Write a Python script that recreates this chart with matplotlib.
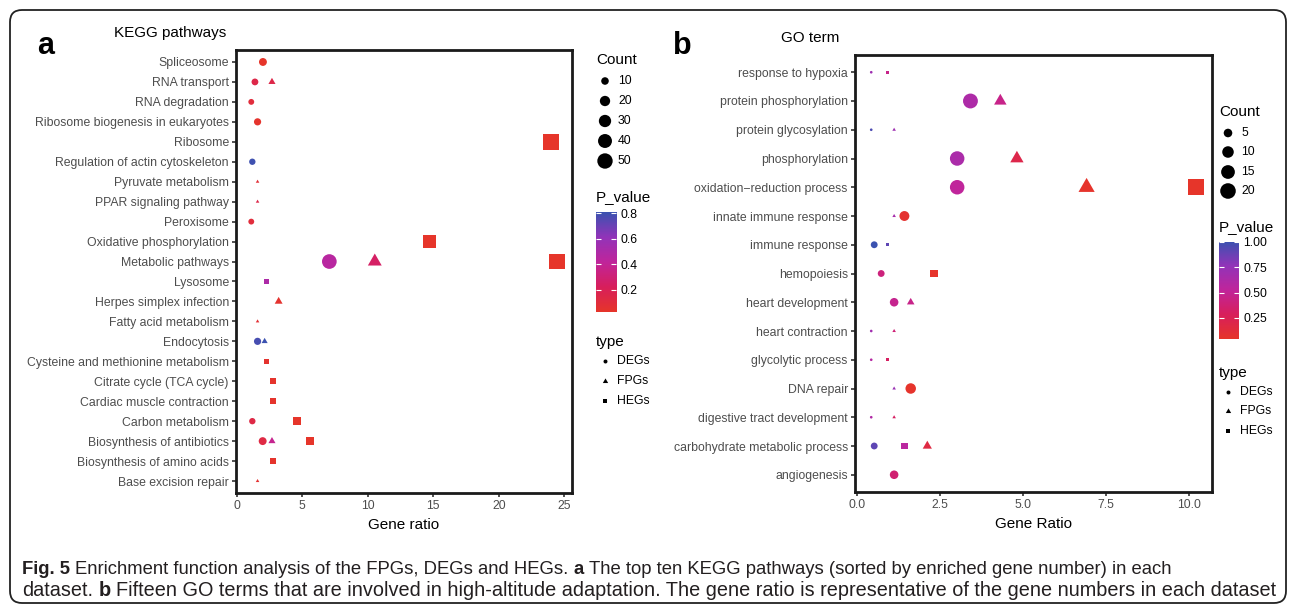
import numpy as np
import matplotlib.pyplot as plt
from matplotlib.colors import LinearSegmentedColormap, Normalize
from matplotlib.path import Path
from matplotlib.patches import FancyBboxPatch

plt.rcParams['font.family'] = ['Liberation Sans', 'DejaVu Sans']

W, H, DPI = 1290, 605, 100

# ---------------- panel a: KEGG pathways ----------------
kegg_terms = ["Spliceosome", "RNA transport", "RNA degradation",
              "Ribosome biogenesis in eukaryotes", "Ribosome",
              "Regulation of actin cytoskeleton", "Pyruvate metabolism",
              "PPAR signaling pathway", "Peroxisome", "Oxidative phosphorylation",
              "Metabolic pathways", "Lysosome", "Herpes simplex infection",
              "Fatty acid metabolism", "Endocytosis",
              "Cysteine and methionine metabolism", "Citrate cycle (TCA cycle)",
              "Cardiac muscle contraction", "Carbon metabolism",
              "Biosynthesis of antibiotics", "Biosynthesis of amino acids",
              "Base excision repair"]

a_deg_terms = ["Spliceosome", "RNA transport", "RNA degradation",
               "Ribosome biogenesis in eukaryotes", "Regulation of actin cytoskeleton",
               "Peroxisome", "Metabolic pathways", "Endocytosis",
               "Carbon metabolism", "Biosynthesis of antibiotics"]
a_deg_ratio = [1.99, 1.38, 1.10, 1.58, 1.18, 1.10, 7.06, 1.58, 1.18, 1.97]
a_deg_count = [11, 8, 6, 9, 7, 6, 45, 9, 7, 11]
a_deg_p = [0.03, 0.15, 0.10, 0.04, 0.80, 0.10, 0.45, 0.78, 0.14, 0.13]

a_fpg_terms = ["RNA transport", "Pyruvate metabolism", "PPAR signaling pathway",
               "Metabolic pathways", "Herpes simplex infection", "Fatty acid metabolism",
               "Endocytosis", "Biosynthesis of antibiotics", "Base excision repair"]
a_fpg_ratio = [2.68, 1.58, 1.58, 10.53, 3.19, 1.58, 2.12, 2.68, 1.58]
a_fpg_count = [5, 3, 3, 20, 6, 3, 4, 5, 3]
a_fpg_p = [0.15, 0.08, 0.15, 0.25, 0.05, 0.07, 0.81, 0.38, 0.06]

a_heg_terms = ["Ribosome", "Oxidative phosphorylation", "Metabolic pathways",
               "Lysosome", "Cysteine and methionine metabolism",
               "Citrate cycle (TCA cycle)", "Cardiac muscle contraction",
               "Carbon metabolism", "Biosynthesis of antibiotics",
               "Biosynthesis of amino acids"]
a_heg_ratio = [24.0, 14.73, 24.42, 2.27, 2.27, 2.78, 2.78, 4.59, 5.56, 2.78]
a_heg_count = [53, 32, 54, 5, 5, 6, 6, 10, 12, 6]
a_heg_p = [0.03, 0.03, 0.027, 0.50, 0.05, 0.04, 0.04, 0.03, 0.03, 0.04]

a_xticks = [0, 5, 10, 15, 20, 25]
a_count_breaks = [10, 20, 30, 40, 50]
a_p_ticks = [0.2, 0.4, 0.6, 0.8]

# ---------------- panel b: GO term ----------------
go_terms = ["response to hypoxia", "protein phosphorylation", "protein glycosylation",
            "phosphorylation", "oxidation\u2212reduction process", "innate immune response",
            "immune response", "hemopoiesis", "heart development", "heart contraction",
            "glycolytic process", "DNA repair", "digestive tract development",
            "carbohydrate metabolic process", "angiogenesis"]

b_deg_terms = go_terms
b_deg_ratio = [0.42, 3.41, 0.42, 3.01, 3.01, 1.42, 0.51, 0.72, 1.11, 0.42,
               0.42, 1.61, 0.42, 0.51, 1.11]
b_deg_count = [1, 18, 1, 17, 17, 7, 3, 3, 5, 1, 1, 8, 1, 3, 5]
b_deg_p = [0.70, 0.62, 0.95, 0.63, 0.52, 0.07, 1.00, 0.40, 0.47, 0.68,
           0.58, 0.05, 0.60, 0.90, 0.36]

b_fpg_terms = ["protein phosphorylation", "protein glycosylation", "phosphorylation",
               "oxidation\u2212reduction process", "innate immune response",
               "heart development", "heart contraction", "DNA repair",
               "digestive tract development", "carbohydrate metabolic process"]
b_fpg_ratio = [4.31, 1.11, 4.81, 6.91, 1.11, 1.61, 1.11, 1.11, 1.11, 2.11]
b_fpg_count = [6, 1, 7, 11, 1, 2, 1, 1, 1, 3]
b_fpg_p = [0.45, 0.70, 0.20, 0.05, 0.65, 0.45, 0.38, 0.72, 0.30, 0.16]

b_heg_terms = ["response to hypoxia", "oxidation\u2212reduction process", "immune response",
               "hemopoiesis", "glycolytic process", "carbohydrate metabolic process"]
b_heg_ratio = [0.92, 10.2, 0.92, 2.32, 0.92, 1.41]
b_heg_count = [1, 21, 1, 4, 1, 3]
b_heg_p = [0.45, 0.04, 0.90, 0.05, 0.30, 0.55]

b_xticks = [0, 2.5, 5, 7.5, 10]
b_count_breaks = [5, 10, 15, 20]
b_p_ticks = [0.25, 0.50, 0.75, 1.00]

types = ["DEGs", "FPGs", "HEGs"]

# caption pieces: (text, bold)
caption1 = [("Fig. 5", True),
            ("Enrichment function analysis of the FPGs, DEGs and HEGs.", False),
            ("a", True),
            ("The top ten KEGG pathways (sorted by enriched gene number) in each", False)]
caption2 = [("dataset.", False), ("b", True),
            ("Fifteen GO terms that are involved in high-altitude adaptation. "
             "The gene ratio is representative of the gene numbers in each dataset", False)]

# ---------------- styling ----------------
cmap = LinearSegmentedColormap.from_list(
    "pv", ["#E6352A", "#D81F5C", "#C0259B", "#9234B9", "#3B52B0"])

TRI = Path([(0, 1.5551), (-1.3468, -0.7776), (1.3468, -0.7776), (0, 1.5551)],
           [Path.MOVETO, Path.LINETO, Path.LINETO, Path.CLOSEPOLY])
MARK = {"DEGs": ("o", 1.0), "FPGs": (TRI, 1.5551), "HEGs": ("s", 1.0)}
UNIT = 2.65   # pixels per ggplot size unit
GRAY = "#4D4D4D"
CAP_COLOR = "#231F20"


def size_unit(c, cmin, cmax):
    c = np.asarray(c, float)
    return 1 + 5 * np.sqrt((c - cmin) / (cmax - cmin))


def area(d_px, kind):
    m = np.asarray(d_px) * 72 / DPI * MARK[kind][1]
    return m ** 2


fig = plt.figure(figsize=(W / DPI, H / DPI), dpi=DPI)


def px_rect(x0, y0, x1, y1):
    return [x0 / W, 1 - y1 / H, (x1 - x0) / W, (y1 - y0) / H]


def panel(rect, terms, series, xticks, xlabels, xlabel):
    ax = fig.add_axes(rect)
    n = len(terms)
    ypos = {t: n - 1 - i for i, t in enumerate(terms)}
    counts = np.concatenate([s[2] for s in series.values()])
    pvals = np.concatenate([s[3] for s in series.values()])
    ratios = np.concatenate([s[1] for s in series.values()])
    cmin, cmax = counts.min(), counts.max()
    norm = Normalize(pvals.min(), pvals.max())
    for kind in types:
        tt, rr, cc, pp = series[kind]
        d = UNIT * size_unit(cc, cmin, cmax)
        ax.scatter(rr, [ypos[t] for t in tt], s=area(d, kind),
                   c=cmap(norm(np.asarray(pp))), marker=MARK[kind][0],
                   linewidths=0, zorder=3)
    span = ratios.max() - ratios.min()
    ax.set_xlim(ratios.min() - 0.05 * span, ratios.max() + 0.05 * span)
    ax.set_ylim(-0.6, n - 0.4)
    ax.set_yticks(range(n))
    ax.set_yticklabels(terms[::-1])
    ax.set_xticks(xticks)
    ax.set_xticklabels(xlabels)
    ax.tick_params(colors="#333333", labelcolor=GRAY, labelsize=8.8,
                   length=3, width=1.2, pad=2.2)
    for sp in ax.spines.values():
        sp.set_linewidth(2.0)
        sp.set_color("#1A1A1A")
    ax.set_xlabel(xlabel, fontsize=11, labelpad=4)
    return cmin, cmax, norm


a_series = {"DEGs": (a_deg_terms, a_deg_ratio, a_deg_count, a_deg_p),
            "FPGs": (a_fpg_terms, a_fpg_ratio, a_fpg_count, a_fpg_p),
            "HEGs": (a_heg_terms, a_heg_ratio, a_heg_count, a_heg_p)}
b_series = {"DEGs": (b_deg_terms, b_deg_ratio, b_deg_count, b_deg_p),
            "FPGs": (b_fpg_terms, b_fpg_ratio, b_fpg_count, b_fpg_p),
            "HEGs": (b_heg_terms, b_heg_ratio, b_heg_count, b_heg_p)}

a_cmin, a_cmax, a_norm = panel(px_rect(236, 50, 572, 493), kegg_terms, a_series,
                               a_xticks, [str(v) for v in a_xticks], "Gene ratio")
b_cmin, b_cmax, b_norm = panel(px_rect(855, 55, 1212, 492), go_terms, b_series,
                               b_xticks, ["%.1f" % v for v in b_xticks], "Gene Ratio")

# overlay in pixel coordinates
ov = fig.add_axes([0, 0, 1, 1], zorder=-1)
ov.set_xlim(0, W)
ov.set_ylim(H, 0)
ov.axis("off")

ov.add_patch(FancyBboxPatch((10, 10), 1276, 593,
                            boxstyle="round,pad=0,rounding_size=12",
                            fill=False, ec="#222222", lw=1.3))

ov.text(37, 54, "a", fontsize=22, fontweight="bold", va="baseline")
ov.text(673, 54, "b", fontsize=22, fontweight="bold", va="baseline")
ov.text(170, 33, "KEGG pathways", fontsize=11, ha="center", va="center")
ov.text(810, 38, "GO term", fontsize=11, ha="center", va="center")


def legends(x0, count_ys, breaks, cmin, cmax, p_title_y, bar, norm, pticks, pfmt, type_ys):
    # Count
    ov.text(x0, count_ys[0] - 21, "Count", fontsize=11, va="center")
    d = UNIT * size_unit(breaks, cmin, cmax)
    ov.scatter([x0 + 9] * len(breaks), count_ys, s=area(d, "DEGs"), c="black",
               marker="o", linewidths=0)
    for y, b in zip(count_ys, breaks):
        ov.text(x0 + 22, y, str(b), fontsize=8.8, va="center")
    # P_value
    ov.text(x0, p_title_y, "P_value", fontsize=11, va="center")
    bx0, by0, bx1, by1 = bar
    cax = fig.add_axes(px_rect(bx0, by0, bx1, by1))
    lo, hi = norm.vmin, norm.vmax
    grad = np.linspace(lo, hi, 300)[:, None]
    cax.imshow(grad, aspect="auto", cmap=cmap, norm=norm, origin="lower",
               extent=[0, 1, lo, hi])
    cax.set_xticks([])
    cax.set_ylim(lo, hi)
    cax.set_yticks(pticks)
    cax.set_yticklabels([pfmt % v for v in pticks])
    cax.tick_params(axis="y", left=True, right=True, labelleft=False, labelright=True,
                    direction="in", length=3.5, width=0.8, color="white",
                    labelcolor="black", labelsize=8.8, pad=3)
    for sp in cax.spines.values():
        sp.set_visible(False)
    # type
    ov.text(x0, type_ys[0] - 19, "type", fontsize=11, va="center")
    dt = UNIT * 1.5
    for y, kind in zip(type_ys, types):
        ov.scatter([x0 + 9], [y], s=area(dt, kind), c="black",
                   marker=MARK[kind][0], linewidths=0)
        ov.text(x0 + 21, y, kind, fontsize=8.8, va="center")


legends(596, [81, 101, 121, 141, 161], a_count_breaks, a_cmin, a_cmax, 197,
        (596, 212, 616, 312), a_norm, a_p_ticks, "%.1f", [361, 381, 401])
legends(1219, [133, 152, 172, 191], b_count_breaks, b_cmin, b_cmax, 227,
        (1219, 242, 1239, 339), b_norm, b_p_ticks, "%.2f", [392, 411, 431])


# caption: bold and regular pieces chained one after another
def caption_line(x, y, parts, fs):
    arts = []
    prev = None
    for txt, bold in parts:
        kw = dict(fontsize=fs, fontweight="bold" if bold else "normal",
                  color=CAP_COLOR, va="bottom", ha="left")
        if prev is None:
            prev = ov.text(x, y, txt, **kw)
        else:
            prev = ov.annotate(txt, xy=(1, 0), xycoords=prev,
                               xytext=(0.278 * fs, 0), textcoords="offset points", **kw)
        arts.append(prev)
    return arts


def line_width(arts):
    r = fig.canvas.get_renderer()
    return arts[-1].get_window_extent(r).x1 - arts[0].get_window_extent(r).x0


fs0 = 13
cap_specs = [(578, caption1, 1150), (600, caption2, 1248)]
for y, parts, target in cap_specs:
    arts = caption_line(22, y, parts, fs0)
    fig.canvas.draw()
    fs = fs0 * target / line_width(arts)
    for a in arts:
        a.remove()
    caption_line(22, y, parts, fs)

fig.savefig("out.png", dpi=DPI)
